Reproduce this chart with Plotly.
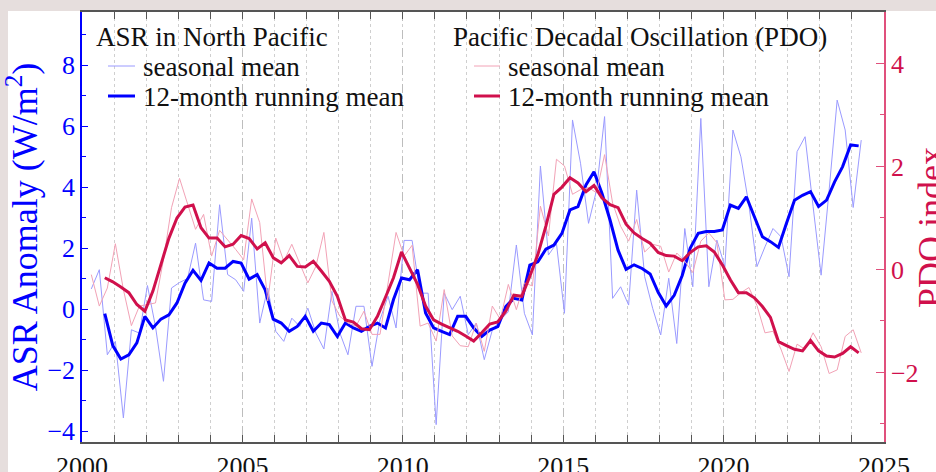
import plotly.graph_objects as go

# ---------------- data ----------------
season_start = 2000.29   # first seasonal mean (decimal year)
season_step = 0.25
asr_seasonal = [0.66, 1.29, -1.50, -1.06, -3.57, -0.68, -0.79, 0.77, -0.57, -2.37,
                0.69, 0.87, 1.00, 2.16, 0.30, 0.25, 3.42, 1.13, 0.96, 0.58,
                2.98, -0.46, 0.69, -0.73, -1.06, -0.30, -0.57, 0.03, -0.79, -1.31,
                0.58, -0.79, -1.50, 0.09, 0.09, -1.88, -0.35, 0.42, -0.62, 2.25,
                2.25, 0.52, 0.52, -3.79, 0.52, -0.02, 0.42, -0.84, -0.46, -1.66,
                -0.69, -0.36, -0.09, 2.10, -0.14, -0.85, 4.69, 1.77, 2.15, -0.14,
                6.20, 4.78, 2.81, 3.90, 6.31, 0.35, 0.73, 0.13, 3.90, 1.06,
                0.02, -0.85, 1.01, -1.13, 2.64, 0.73, 6.25, 0.73, 2.26, 1.39,
                5.87, 4.99, 3.40, 1.39, 2.04, 2.64, 2.37, 1.06, 5.16, 5.65,
                3.36, 1.11, 3.90, 6.85, 5.87, 3.33, 5.54]
pdo_seasonal = [-0.10, -0.71, -0.36, 0.50, -0.39, -1.09, -0.71, -0.68, -0.65, 0.19,
                1.20, 1.77, 1.29, 0.78, 1.07, 0.26, 0.76, 0.58, 0.39, 0.19,
                1.37, 0.91, -0.61, 0.61, 0.16, 0.49, 0.10, -0.26, 0.06, 0.72,
                -0.61, -0.91, -1.04, -1.10, -0.81, -1.26, -1.26, -0.26, 0.72, 0.26,
                0.47, -1.10, -1.04, -1.39, -0.39, -1.29, -1.48, -1.50, -1.04, -1.59,
                -0.71, -0.97, -0.29, -0.78, -0.26, -0.32, 1.23, 0.65, 2.14, 2.01,
                1.46, 1.55, 1.59, 1.49, 2.23, 1.29, 0.84, 0.55, 0.97, 0.34,
                0.49, 0.45, -0.05, 0.32, 0.16, -0.06, 0.55, 0.71, 0.52, -0.59,
                -0.58, -0.45, -0.35, -0.70, -1.23, -1.20, -1.55, -1.98, -1.45, -1.55,
                -1.23, -1.50, -2.02, -1.95, -1.30, -1.17, -1.62]

run_start = 2000.71      # first 12-month running mean (decimal year)
run_step = 0.25
asr_running = [-0.15, -1.20, -1.64, -1.50, -1.11, -0.24, -0.62, -0.33, -0.19, 0.20,
               0.85, 1.27, 0.94, 1.51, 1.34, 1.34, 1.56, 1.51, 0.98, 1.13,
               0.63, -0.33, -0.46, -0.73, -0.57, -0.24, -0.73, -0.46, -0.51, -0.90,
               -0.46, -0.62, -0.73, -0.57, -0.46, -0.62, 0.31, 1.02, 0.96, 1.29,
               -0.13, -0.62, -0.73, -0.84, -0.24, -0.24, -0.62, -0.90, -0.69, -0.58,
               0.08, 0.35, 0.30, 1.44, 1.55, 1.96, 2.10, 2.48, 3.25, 3.36,
               4.07, 4.50, 3.79, 2.92, 1.93, 1.30, 1.45, 1.33, 1.15, 0.55,
               0.10, 0.45, 1.10, 2.00, 2.48, 2.54, 2.54, 2.59, 3.41, 3.30,
               3.68, 3.03, 2.37, 2.21, 2.02, 2.81, 3.57, 3.73, 3.85, 3.36,
               3.57, 4.17, 4.67, 5.38, 5.35]
pdo_running = [-0.16, -0.24, -0.34, -0.45, -0.68, -0.81, -0.42, 0.10, 0.61, 1.00,
               1.21, 1.25, 0.81, 0.61, 0.61, 0.44, 0.49, 0.66, 0.60, 0.40,
               0.52, 0.23, 0.13, 0.27, 0.06, 0.05, 0.16, -0.03, -0.23, -0.52,
               -0.98, -1.02, -1.15, -1.17, -0.91, -0.54, -0.16, 0.34, 0.03, -0.29,
               -0.71, -0.98, -1.06, -1.13, -1.20, -1.29, -1.39, -1.23, -1.06, -1.02,
               -0.81, -0.50, -0.52, -0.13, 0.29, 0.84, 1.46, 1.60, 1.78, 1.68,
               1.51, 1.63, 1.39, 1.26, 1.20, 0.88, 0.71, 0.60, 0.51, 0.33,
               0.27, 0.26, 0.17, 0.33, 0.44, 0.46, 0.34, 0.09, -0.20, -0.45,
               -0.45, -0.55, -0.72, -0.93, -1.40, -1.48, -1.55, -1.58, -1.38, -1.58,
               -1.68, -1.70, -1.63, -1.50, -1.62]

x_tick_vals = [2000, 2005, 2010, 2015, 2020, 2025]
x_tick_text = ["2000", "2005", "2010", "2015", "2020", "2025"]
asr_tick_vals = [-4, -2, 0, 2, 4, 6, 8]
pdo_tick_vals = [-2, 0, 2, 4]

legend_titles = ["ASR in North Pacific", "Pacific Decadal Oscillation (PDO)"]
legend_items = ["seasonal mean", "12-month running mean"]
left_title = "ASR Anomaly (W/m<sup>2</sup>)"
right_title = "PDO index"

t_season = [round(season_start + season_step * i, 3) for i in range(len(asr_seasonal))]
t_run = [round(run_start + run_step * i, 3) for i in range(len(asr_running))]

# ---------------- styling ----------------
FONT = "Liberation Serif, Times New Roman, serif"
BLUE = "#0000ff"
BLUE_THIN = "#9a9aff"
RED = "#d0104c"
RED_THIN = "#f2a2b6"
RED_AXIS = "#e0507c"
FRAME = "#555555"
BORDER = "#e6dedd"

W, H = 936, 472
ML, MR, MT, MB = 82, 52, 12, 30
PW, PH = W - ML - MR, H - MT - MB


def px(xp):
    return (xp - ML) / PW


def py(yp):
    return (H - MB - yp) / PH


fig = go.Figure()
fig.add_trace(go.Scatter(x=t_season, y=asr_seasonal, mode="lines", name="ASR seasonal mean",
                         line=dict(color=BLUE_THIN, width=1), yaxis="y"))
fig.add_trace(go.Scatter(x=t_run, y=asr_running, mode="lines", name="ASR 12-month running mean",
                         line=dict(color=BLUE, width=3), yaxis="y"))
fig.add_trace(go.Scatter(x=t_season, y=pdo_seasonal, mode="lines", name="PDO seasonal mean",
                         line=dict(color=RED_THIN, width=1), yaxis="y2"))
fig.add_trace(go.Scatter(x=t_run, y=pdo_running, mode="lines", name="PDO 12-month running mean",
                         line=dict(color=RED, width=3), yaxis="y2"))

# legend drawn as text + sample lines
annotations = []
shapes = []
cols = [(96, 108, 135, 143, BLUE_THIN, BLUE), (453, 474, 500, 508, RED_THIN, RED)]
for title, (tx, s0, s1, ix, cthin, cthick) in zip(legend_titles, cols):
    annotations.append(dict(text=title, x=px(tx - 2), y=py(37), xref="paper", yref="paper",
                            xanchor="left", yanchor="middle", showarrow=False,
                            font=dict(family=FONT, size=27, color="#111")))
    for label, yy, col, wd in zip(legend_items, [67, 97], [cthin, cthick], [1, 3]):
        annotations.append(dict(text=label, x=px(ix - 2), y=py(yy), xref="paper", yref="paper",
                                xanchor="left", yanchor="middle", showarrow=False,
                                font=dict(family=FONT, size=27, color="#111")))
        shapes.append(dict(type="line", xref="paper", yref="paper",
                           x0=px(s0), x1=px(s1), y0=py(yy - 1), y1=py(yy - 1),
                           line=dict(color=col, width=wd)))

# right axis title: in the original it runs off the right edge of the picture
annotations.append(dict(text=right_title, textangle=-90, x=px(909), y=0.5, xref="paper", yref="paper",
                        xanchor="left", yanchor="middle", showarrow=False,
                        font=dict(family=FONT, size=36, color=RED)))

# grey-pink border strips of the original picture
shapes.append(dict(type="rect", xref="paper", yref="paper", x0=px(0), x1=px(8), y0=py(H), y1=py(0),
                   fillcolor=BORDER, line=dict(width=0), layer="below"))
shapes.append(dict(type="rect", xref="paper", yref="paper", x0=px(0), x1=px(W), y0=py(11), y1=py(0),
                   fillcolor=BORDER, line=dict(width=0), layer="below"))

fig.update_layout(
    width=W, height=H,
    margin=dict(l=ML, r=MR, t=MT, b=MB, pad=0),
    paper_bgcolor="white", plot_bgcolor="white",
    showlegend=False,
    font=dict(family=FONT),
    annotations=annotations,
    shapes=shapes,
    xaxis=dict(range=[2000, 2025], tickvals=x_tick_vals, ticktext=x_tick_text,
               ticks="inside", ticklen=7, tickwidth=1.2, tickcolor=FRAME,
               showline=True, linecolor=FRAME, linewidth=1.5, mirror="allticks",
               tickfont=dict(family=FONT, size=26, color="#111"),
               showgrid=True, gridcolor="#bdbdbd", griddash="dash", gridwidth=1,
               zeroline=False, automargin=False,
               minor=dict(dtick=1, ticks="inside", ticklen=7, tickwidth=1.2, tickcolor=FRAME,
                          showgrid=True, gridcolor="#cfcfcf", griddash="dot", gridwidth=1)),
    yaxis=dict(range=[-4.36, 9.74], tickvals=asr_tick_vals,
               ticks="inside", ticklen=6, tickwidth=1.2, tickcolor=BLUE,
               showline=True, linecolor=BLUE, linewidth=1.5,
               tickfont=dict(family=FONT, size=26, color=BLUE),
               showgrid=False, zeroline=False, automargin=False,
               minor=dict(dtick=1, ticks="inside", ticklen=4, tickwidth=1.2, tickcolor=BLUE),
               title=dict(text=left_title, standoff=4,
                          font=dict(family=FONT, size=36, color=BLUE))),
    yaxis2=dict(range=[-3.35, 5.0], tickvals=pdo_tick_vals, overlaying="y", side="right", anchor="x",
                ticks="inside", ticklen=8, tickwidth=1.2, tickcolor=RED_AXIS,
                showline=True, linecolor=RED_AXIS, linewidth=1.5,
                tickfont=dict(family=FONT, size=26, color=RED),
                showgrid=False, zeroline=False, automargin=False,
                minor=dict(dtick=1, ticks="inside", ticklen=4, tickwidth=1.2, tickcolor=RED_AXIS)),
)

fig.write_html("out.html", config={"displayModeBar": False},
               post_script="document.body.style.margin='0px';")
